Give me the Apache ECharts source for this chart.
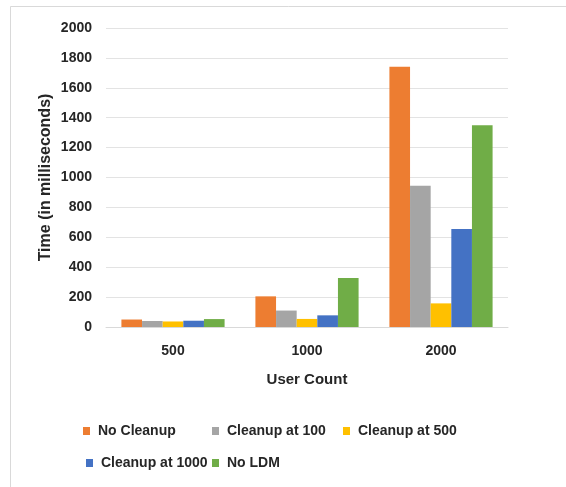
<!DOCTYPE html>
<html>
<head>
<meta charset="utf-8">
<script src="https://cdn.jsdelivr.net/npm/echarts@6/dist/echarts.min.js"></script>
<style>
  html, body { margin: 0; padding: 0; background: #fff; }
  #chart { width: 566px; height: 487px; }
</style>
</head>
<body>
<div id="chart"></div>
<script>
// User counts on the category axis
const categories = ['500', '1000', '2000'];

// Response time (ms) for each cleanup strategy
const noCleanup = [50, 205, 1740];
const cleanupAt100 = [40, 110, 945];
const cleanupAt500 = [37, 54, 158];
const cleanupAt1000 = [42, 78, 655];
const noLDM = [53, 328, 1350];

const seriesNames = ['No Cleanup', 'Cleanup at 100', 'Cleanup at 500', 'Cleanup at 1000', 'No LDM'];
const seriesValues = [noCleanup, cleanupAt100, cleanupAt500, cleanupAt1000, noLDM];
const colors = ['#ED7D31', '#A5A5A5', '#FFC000', '#4472C4', '#70AD47'];

const FONT = '"Liberation Sans", Arial, sans-serif';
const TEXT = '#262626';

// Legend laid out on a fixed two-row grid
const legendSlots = [
  { left: 83, top: 424 },
  { left: 212, top: 424 },
  { left: 343, top: 424 },
  { left: 86, top: 456 },
  { left: 212, top: 456 }
];

const chart = echarts.init(document.getElementById('chart'), null, { renderer: 'canvas' });

chart.setOption({
  backgroundColor: '#ffffff',
  animation: false,
  color: colors,
  graphic: [{
    type: 'rect',
    shape: { x: 10.5, y: 6.5, width: 570, height: 490 },
    style: { fill: 'none', stroke: '#d9d9d9', lineWidth: 1 },
    silent: true
  }],
  legend: seriesNames.map((name, i) => ({
    data: [name],
    left: legendSlots[i].left,
    top: legendSlots[i].top,
    orient: 'horizontal',
    icon: 'rect',
    itemWidth: 7,
    itemHeight: 8,
    padding: 0,
    textStyle: { fontFamily: FONT, fontSize: 14, fontWeight: 'bold', color: TEXT, padding: [0, 0, 0, 3] }
  })),
  grid: { left: 106, right: 58, top: 28, bottom: 160, containLabel: false },
  xAxis: {
    type: 'category',
    data: categories,
    name: 'User Count',
    nameLocation: 'middle',
    nameGap: 45,
    nameMoveOverlap: false,
    nameTextStyle: { fontFamily: FONT, fontSize: 15, fontWeight: 'bold', color: TEXT },
    axisLine: { lineStyle: { color: '#d9d9d9', width: 1 } },
    axisTick: { show: false },
    axisLabel: { fontFamily: FONT, fontSize: 14, fontWeight: 'bold', color: TEXT, margin: 17 }
  },
  yAxis: {
    type: 'value',
    min: 0,
    max: 2000,
    interval: 200,
    name: 'Time (in milliseconds)',
    nameLocation: 'middle',
    nameGap: 52,
    nameMoveOverlap: false,
    nameTextStyle: { fontFamily: FONT, fontSize: 16, fontWeight: 'bold', color: TEXT },
    axisLine: { show: false },
    axisTick: { show: false },
    splitLine: { lineStyle: { color: '#e3e3e3', width: 1 } },
    axisLabel: {
      fontFamily: FONT, fontSize: 14, fontWeight: 'bold', color: TEXT, margin: 14,
      formatter: (v) => String(v)
    }
  },
  series: seriesNames.map((name, i) => ({
    name: name,
    type: 'bar',
    data: seriesValues[i],
    barGap: '0%',
    barCategoryGap: '23%',
    itemStyle: { color: colors[i] }
  }))
});
</script>
</body>
</html>
